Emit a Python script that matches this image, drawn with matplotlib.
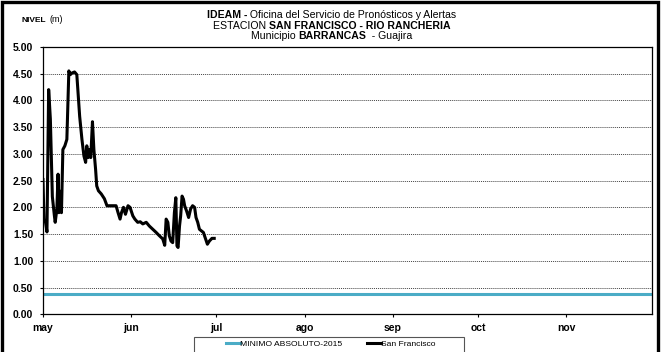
import matplotlib
matplotlib.use('Agg')
import matplotlib.pyplot as plt
from matplotlib.patches import Rectangle
from matplotlib.dates import date2num
from datetime import datetime, timedelta

plt.rcParams['font.family'] = ['Liberation Sans', 'DejaVu Sans']

# day offsets from 1 may, and water level (m)
days = [0, 0.35, 0.9, 1.4, 2, 2.6, 3.3, 4, 4.3, 4.9, 5.3, 5.6, 6.1, 6.5, 7, 7.7,
        8.4, 9.1, 9.6, 10.2, 11.1, 11.9, 12.9, 13.7, 14.4, 15, 15.4, 15.9, 16.4,
        16.8, 17.4, 17.9, 18.5, 18.9, 19.5, 20.5, 21.6, 22.5, 24, 25.7, 26.4,
        27.1, 27.6, 28.3, 29, 29.9, 30.6, 31.6, 32.3, 33.3, 34.2, 35.1, 36.3,
        37.4, 38.6, 39.8, 40.9, 42.1, 42.8, 43.3, 43.9, 44.4, 45, 45.6, 46.2,
        46.7, 47.1, 47.5, 48, 48.4, 48.9, 49.4, 49.8, 50.5, 51.2, 51.9, 52.6,
        53.3, 53.8, 54.4, 55, 55.7, 56.4, 57.1, 57.8, 58.5, 59.4, 60.2]
levels = [2.52, 1.78, 1.72, 1.54, 4.2, 3.65, 2.2, 1.85, 1.72, 1.97, 2.62, 1.9,
          2.3, 1.9, 3.08, 3.15, 3.27, 4.55, 4.48, 4.51, 4.53, 4.48, 3.7, 3.27,
          2.96, 2.84, 3.15, 2.93, 3.08, 2.93, 3.6, 3.08, 2.71, 2.4, 2.31, 2.25,
          2.16, 2.03, 2.03, 2.03, 1.9, 1.78, 1.9, 2.0, 1.87, 2.03, 2.0, 1.84,
          1.78, 1.72, 1.73, 1.69, 1.72, 1.65, 1.59, 1.53, 1.47, 1.41, 1.29, 1.78,
          1.72, 1.47, 1.37, 1.34, 1.9, 2.18, 1.28, 1.25, 1.65, 1.84, 2.21, 2.15,
          2.03, 1.93, 1.81, 1.97, 2.03, 2.0, 1.81, 1.72, 1.59, 1.56, 1.53, 1.42,
          1.31, 1.37, 1.42, 1.42]
minimo = 0.38
months = ['may', 'jun', 'jul', 'ago', 'sep', 'oct', 'nov']
month_starts = [datetime(2016, m, 1) for m in range(5, 12)]

start = datetime(2016, 5, 1)
dates = [date2num(start + timedelta(days=d)) for d in days]

fig = plt.figure(figsize=(6.61, 3.52), dpi=100)
ax = fig.add_axes([0.065, 0.107, 0.921, 0.760])

ax.axhline(minimo, color='#4bacc6', linewidth=2.2, label='MINIMO ABSOLUTO-2015')
ax.plot(dates, levels, color='black', linewidth=2.2, label='San Francisco')

#formatting
ax.set_ylim(0, 5)
ax.set_yticks([i * 0.5 for i in range(11)])
ax.set_yticklabels(['%.2f' % (i * 0.5) for i in range(11)], fontweight='bold', fontsize=7.5)
ax.set_xlim(date2num(start), date2num(datetime(2016, 12, 1)))
ax.set_xticks([date2num(d) for d in month_starts])
ax.set_xticklabels(months, fontweight='bold', fontsize=7.5)
ax.tick_params(axis='y', length=2.5, width=0.8, pad=4.5)
ax.tick_params(axis='x', length=2.5, width=0.8, pad=3.5)
ax.grid(axis='y', linestyle=(0, (1, 1)), color='#444444', linewidth=0.7)
for s in ax.spines.values():
    s.set_linewidth(0.9)

# legend entries without frame, box drawn separately (cut by the bottom edge)
ax.legend(loc='center left', bbox_to_anchor=(226 / 661, 1 - 344 / 352),
          bbox_transform=fig.transFigure, ncol=2, fontsize=6.1, frameon=False,
          handlelength=1.6, handletextpad=0.0, columnspacing=3.0,
          borderpad=0, borderaxespad=0)
fig.patches.append(Rectangle((194 / 661, -0.05), 270 / 661, 0.05 + 1 - 337 / 352,
                             transform=fig.transFigure, fill=False,
                             edgecolor='#555555', linewidth=0.8))

# title lines with mixed bold / regular pieces
renderer = fig.canvas.get_renderer()


def mixed_line(pieces, xc, y, size=7.6):
    texts = [fig.text(0, y, s, fontsize=size, fontweight=w, va='baseline')
             for s, w in pieces]
    widths = [t.get_window_extent(renderer).width / fig.bbox.width for t in texts]
    x = xc - sum(widths) / 2
    for t, w in zip(texts, widths):
        t.set_x(x)
        x += w


mixed_line([('IDEAM -', 'bold'), (' Oficina del Servicio de Pronósticos y Alertas', 'normal')],
           0.502, 0.949)
mixed_line([('ESTACION ', 'normal'), ('SAN FRANCISCO - RIO RANCHERIA', 'bold')],
           0.502, 0.919)
mixed_line([('Municipio ', 'normal'), ('BARRANCAS', 'bold'), ('  - Guajira', 'normal')],
           0.502, 0.889)

fig.text(22 / 661, 0.9375, 'NIVEL', fontsize=6, fontweight='bold', va='baseline')
fig.text(50 / 661, 0.9375, '(m)', fontsize=6.5, va='baseline')

# thick frame round the whole picture
fig.patches.append(Rectangle((0.003, -0.05), 0.993, 1.043, transform=fig.transFigure,
                             fill=False, edgecolor='black', linewidth=2.4))

fig.savefig('out.png', dpi=100)
